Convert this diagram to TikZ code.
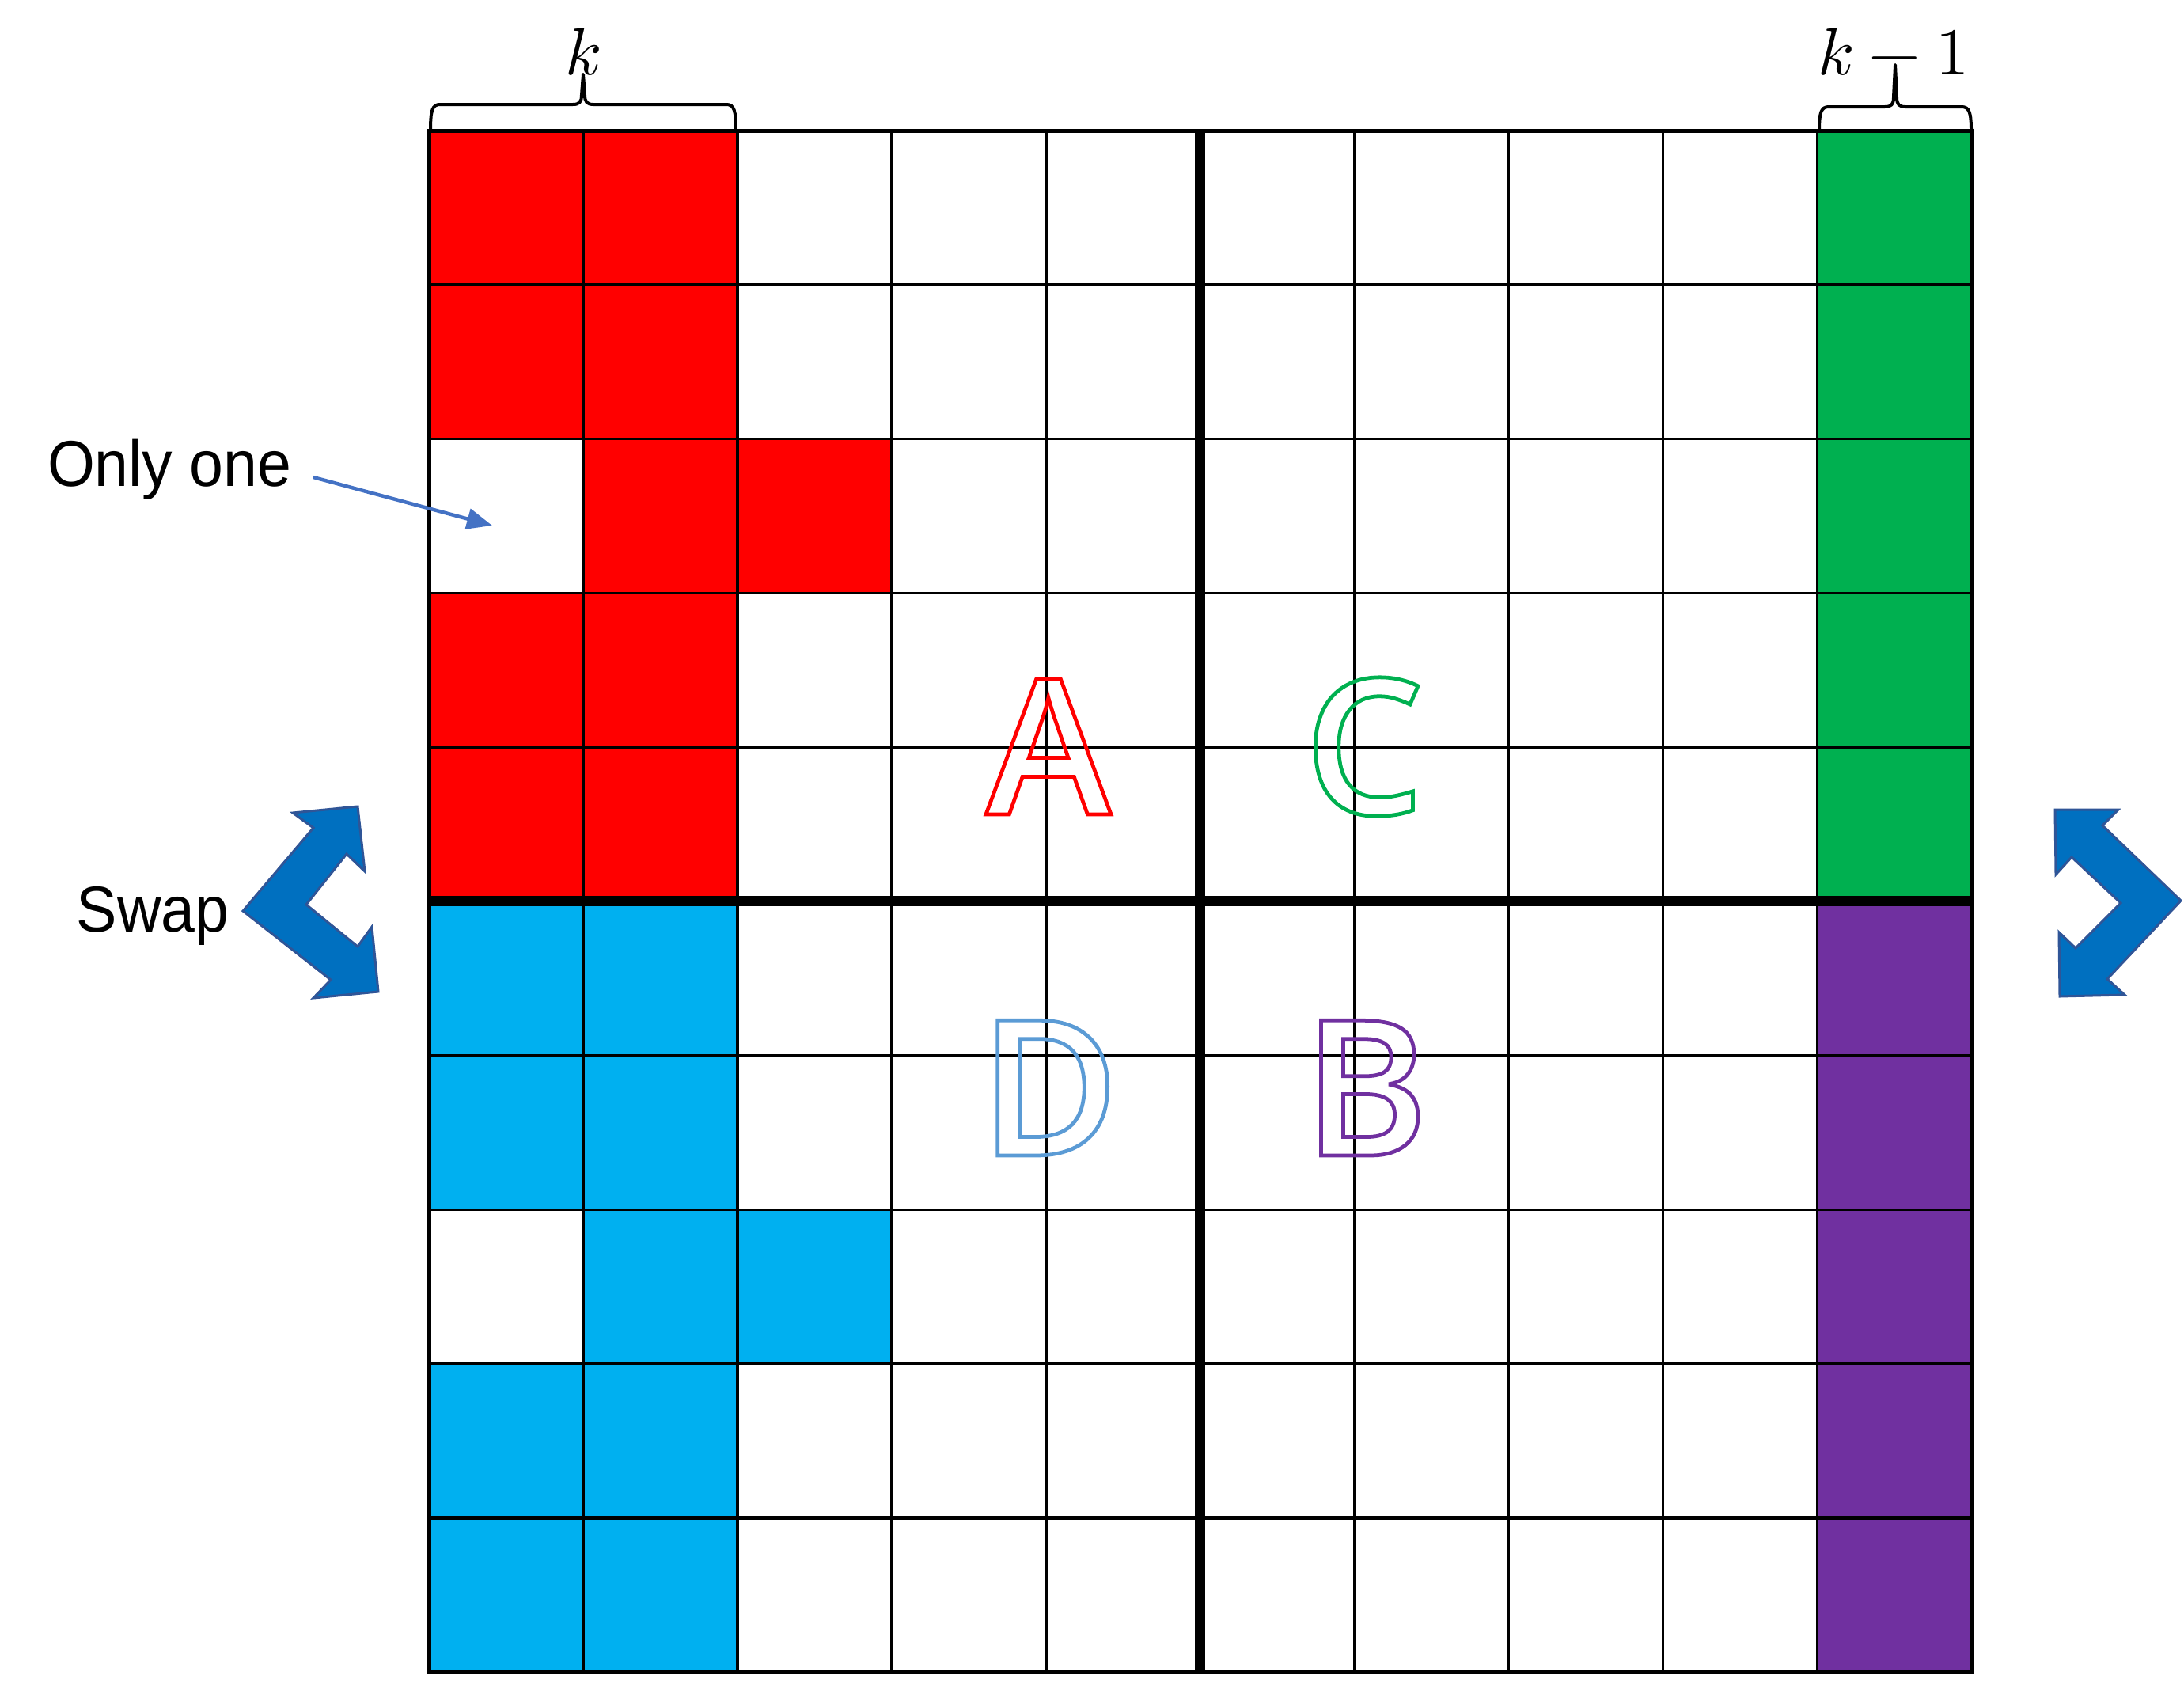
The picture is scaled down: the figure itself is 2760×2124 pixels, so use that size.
\documentclass[tikz,border=0pt]{standalone}
\usepackage{fontspec}
\usepackage{unicode-math}
\setmainfont{Liberation Sans}
\setmathfont{Latin Modern Math}
\newfontfamily\labelfont{Liberation Sans}[FakeStretch=0.94]
\IfFontExistsTF{Open Sans SemiBold}{\newfontfamily\letterfont{Open Sans SemiBold}}{%
  \IfFontExistsTF{Open Sans Semibold}{\newfontfamily\letterfont{Open Sans Semibold}}{%
    \IfFontExistsTF{Noto Sans SemiBold}{\newfontfamily\letterfont{Noto Sans SemiBold}}{%
      \newfontfamily\letterfont{Open Sans}}}}
\usetikzlibrary{arrows.meta}
\definecolor{cred}{HTML}{FF0000}
\definecolor{cgreen}{HTML}{00B050}
\definecolor{ccyan}{HTML}{00B0F0}
\definecolor{cpurple}{HTML}{7030A0}
\definecolor{cdblue}{HTML}{5B9BD5}
\definecolor{swapfill}{HTML}{0070C0}
\definecolor{swapline}{HTML}{2F5597}
\definecolor{arrowblue}{HTML}{4472C4}
\newcommand\outlined[1]{\special{pdf:literal direct 1 Tr 1.35 w}#1\special{pdf:literal direct 0 Tr}}
\tikzset{
  thinline/.style={line width=0.035cm, black},
  thickline/.style={line width=0.13cm, black},
  outerline/.style={line width=0.05cm, black},
  bracepath/.style={line width=0.04cm, black, line join=round, line cap=round},
  lbl/.style={inner sep=0pt, font=\labelfont\fontsize{23.3pt}{28pt}\selectfont},
  mathlbl/.style={inner sep=0pt, font=\fontsize{24pt}{28pt}\selectfont},
  bigletter/.style={inner sep=0pt, font=\letterfont\fontsize{68pt}{80pt}\selectfont},
  swaparrow/.style={fill=swapfill, draw=swapline, line width=0.03cm, line join=miter},
  pointer/.style={draw=arrowblue, line width=0.045cm, -{Triangle[length=0.32cm,width=0.26cm]}}
}
\begin{document}
\begin{tikzpicture}[x=0.01cm,y=-0.01cm]
\useasboundingbox (0,0) rectangle (2760,2124);
\def\gx{542}\def\gy{165}\def\cw{194.95}\def\ch{194.75}
% coloured cells
\foreach \r/\c in {0/0,0/1,1/0,1/1,2/1,2/2,3/0,3/1,4/0,4/1}
  \fill[cred] ({\gx+\c*\cw},{\gy+\r*\ch}) rectangle ++(\cw,\ch);
\foreach \r/\c in {5/0,5/1,6/0,6/1,7/1,7/2,8/0,8/1,9/0,9/1}
  \fill[ccyan] ({\gx+\c*\cw},{\gy+\r*\ch}) rectangle ++(\cw,\ch);
\foreach \r in {0,...,4}
  \fill[cgreen] ({\gx+9*\cw},{\gy+\r*\ch}) rectangle ++(\cw,\ch);
\foreach \r in {5,...,9}
  \fill[cpurple] ({\gx+9*\cw},{\gy+\r*\ch}) rectangle ++(\cw,\ch);
% grid lines
\foreach \i in {1,2,3,4,6,7,8,9} {
  \draw[thinline] ({\gx+\i*\cw},\gy) -- ({\gx+\i*\cw},{\gy+10*\ch});
  \draw[thinline] (\gx,{\gy+\i*\ch}) -- ({\gx+10*\cw},{\gy+\i*\ch});
}
\draw[thickline] ({\gx+5*\cw},\gy) -- ({\gx+5*\cw},{\gy+10*\ch});
\draw[thickline] (\gx,{\gy+5*\ch}) -- ({\gx+10*\cw},{\gy+5*\ch});
\draw[outerline] (\gx,\gy) rectangle ({\gx+10*\cw},{\gy+10*\ch});
% braces
\draw[bracepath] (544,166) .. controls (544,140) and (546,132) .. (556,132) -- (724,132)
  .. controls (732,132) and (735,129) .. (735,120) -- (737,94) -- (739,120)
  .. controls (739,129) and (742,132) .. (750,132) -- (918,132)
  .. controls (928,132) and (930,140) .. (930,166);
\draw[bracepath] (2299,166) .. controls (2299,143) and (2301,135) .. (2311,135) -- (2382,135)
  .. controls (2390,135) and (2393,132) .. (2393,123) -- (2395,82) -- (2397,123)
  .. controls (2397,132) and (2400,135) .. (2408,135) -- (2479,135)
  .. controls (2489,135) and (2491,143) .. (2491,166);
% labels
\node[mathlbl, anchor=base] (klabel) at (737,94) {$k$};
\node[mathlbl, anchor=base] (kmlabel) at (2393,94) {$k-1$};
\node[lbl, anchor=east, inner xsep=0.27cm] (only) at (396,593) {Only one};
\node[lbl, anchor=base west] (swap) at (96,1177) {Swap};
\coordinate (onlytip) at (622,664);
\draw[pointer] ([yshift=-0.1cm]only.east) -- (onlytip);
% big outlined letters
\node[bigletter, text=cred, anchor=base] (la) at (1325,1029) {\outlined{A}};
\node[bigletter, text=cgreen, anchor=base] (lc) at (1724,1029) {\outlined{C}};
\node[bigletter, text=cdblue, anchor=base] (ld) at (1326,1460) {\outlined{D}};
\node[bigletter, text=cpurple, anchor=base] (lb) at (1726,1460) {\outlined{B}};
% swap arrows
\draw[swaparrow] (307,1151) -- (396,1046) -- (370,1027) -- (452,1019) -- (461,1101) -- (438,1079)
  -- (387,1143) -- (452,1196) -- (470,1171) -- (478,1253) -- (396,1261) -- (418,1238) -- cycle;
\draw[swaparrow] (2756,1138) -- (2657,1043) -- (2677,1023) -- (2597,1023) -- (2598,1105) -- (2618,1083)
  -- (2680,1141) -- (2623,1198) -- (2602,1178) -- (2603,1259) -- (2685,1257) -- (2663,1237) -- cycle;
\end{tikzpicture}
\end{document}
